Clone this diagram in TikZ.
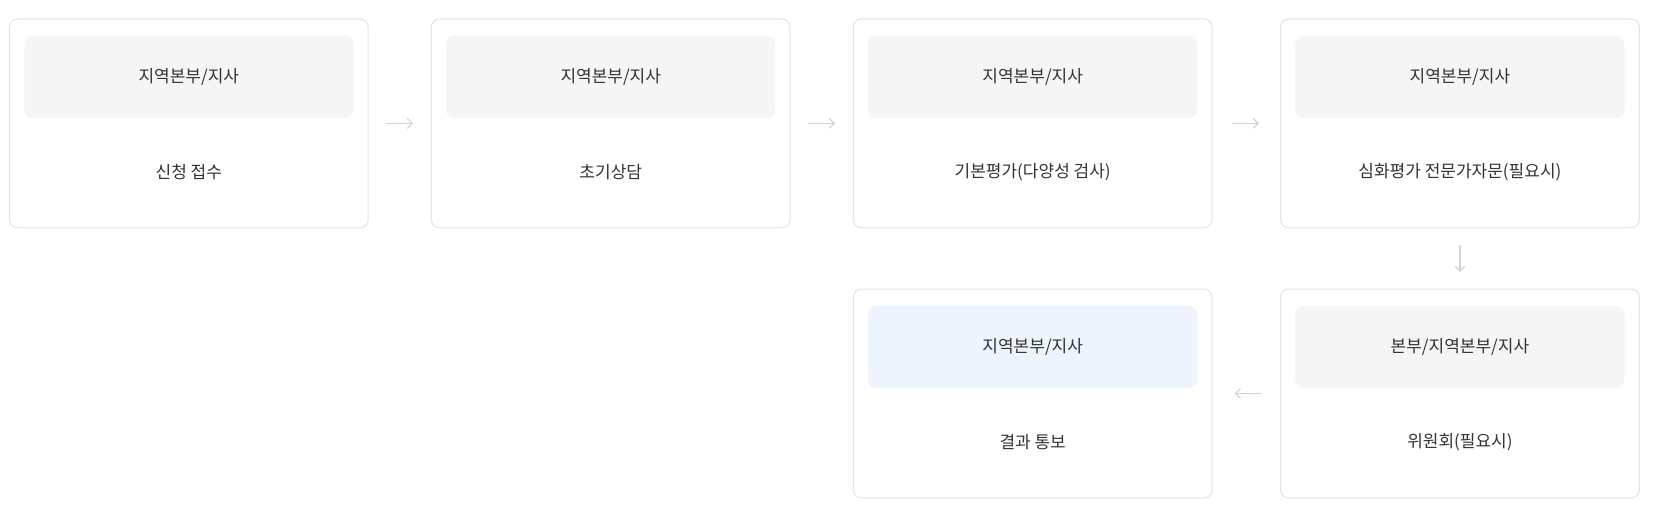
\documentclass[tikz,border=0pt]{standalone}
\usepackage{fontspec}
\setmainfont{Noto Sans CJK KR}
\usetikzlibrary{arrows.meta}
\definecolor{bd}{HTML}{E2E2E2}
\definecolor{hd}{HTML}{F5F5F5}
\definecolor{hb}{HTML}{EDF4FD}
\definecolor{tx}{HTML}{333333}
\definecolor{ar}{HTML}{CDD5D8}
\tikzset{
 outer/.style={draw=bd,line width=1pt,rounded corners=8pt,fill=white},
 head/.style={fill=hd,rounded corners=8pt},
 lbl/.style={text=tx,font=\fontsize{17}{20}\selectfont,inner sep=0pt},
 flow/.style={draw=ar,line width=1.2pt,-{Straight Barb[length=5pt,width=10pt]}}
}
\newcommand{\stepbox}[6]{%
 \draw[outer] (#2,#3) rectangle ++(340,198);%
 \fill[head,fill=#4] (#2+14,#3+16) rectangle ++(312,78);%
 \node[lbl] (#1h) at (#2+170,#3+55) {#5};%
 \node[lbl] (#1) at (#2+170,#3+145) {#6};%
 \coordinate (#1L) at (#2,#3+99);%
 \coordinate (#1R) at (#2+340,#3+99);%
 \coordinate (#1T) at (#2+170,#3);%
 \coordinate (#1B) at (#2+170,#3+198);%
}
\begin{document}
\begin{tikzpicture}[x=1.055pt,y=-1.055pt]
\stepbox{a}{9}{18}{hd}{지역본부/지사}{신청 접수}
\stepbox{b}{409}{18}{hd}{지역본부/지사}{초기상담}
\stepbox{c}{809}{18}{hd}{지역본부/지사}{기본평가(다양성 검사)}
\stepbox{d}{1214}{18}{hd}{지역본부/지사}{심화평가 전문가자문(필요시)}
\stepbox{e}{1214}{274}{hd}{본부/지역본부/지사}{위원회(필요시)}
\stepbox{f}{809}{274}{hb}{지역본부/지사}{결과 통보}
\draw[flow] ([xshift=18pt]aR) -- ([xshift=45pt]aR);
\draw[flow] ([xshift=18pt]bR) -- ([xshift=45pt]bR);
\draw[flow] ([xshift=20pt]cR) -- ([xshift=47pt]cR);
\draw[flow] ([yshift=-17pt]dB) -- ([yshift=-44pt]dB);
\draw[flow] ([xshift=-19pt]eL) -- ([xshift=-46pt]eL);
\pgfresetboundingbox
\path[use as bounding box] (0,0) rectangle (1568,483.5);
\end{tikzpicture}
\end{document}
